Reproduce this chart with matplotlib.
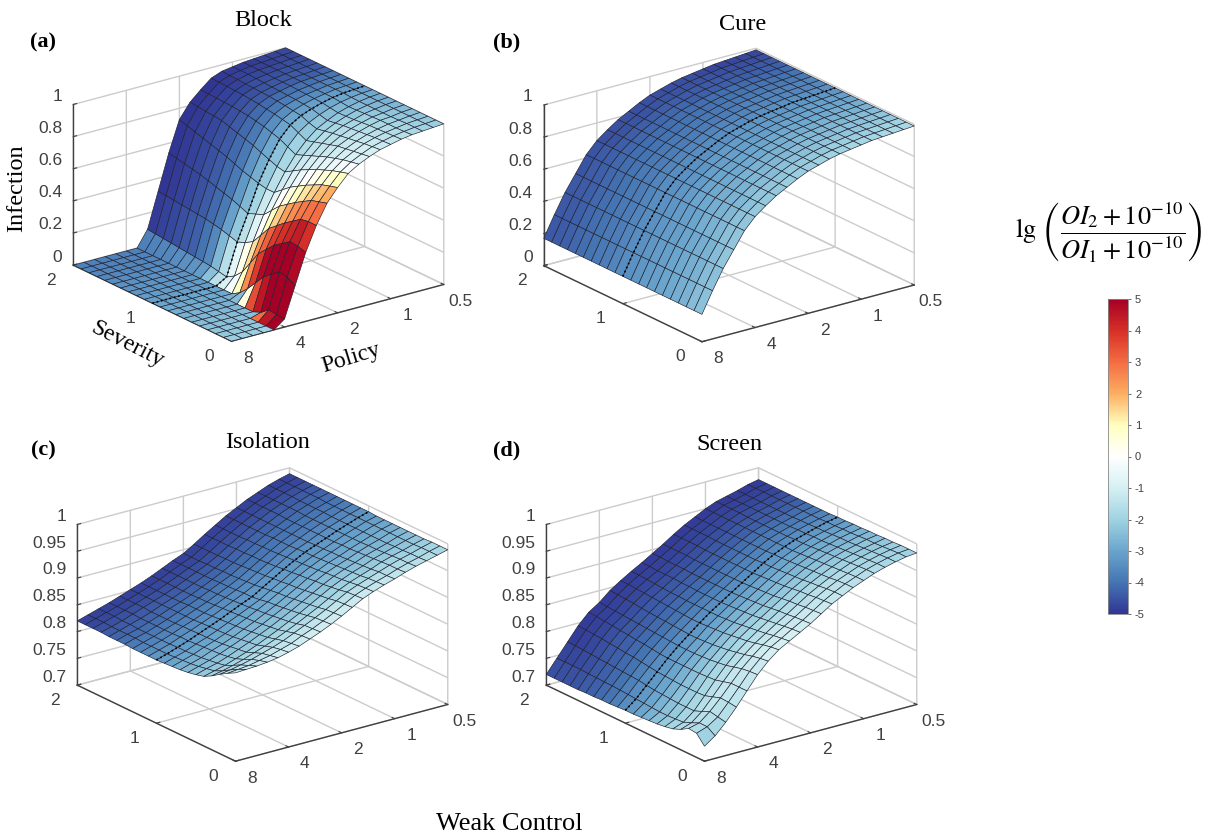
import numpy as np
import matplotlib
matplotlib.use('Agg')
import matplotlib.pyplot as plt
from matplotlib.cm import ScalarMappable
from matplotlib.colors import LinearSegmentedColormap, Normalize

plt.rcParams['axes.unicode_minus'] = False
plt.rcParams['mathtext.fontset'] = 'stix'
plt.rcParams['grid.color'] = '#cccccc'
plt.rcParams['grid.linewidth'] = 1.0

W, H = 1213, 835

# log2 of the policy value, 8 at the front corner, 0.5 at the back
policy_log2 = [3.0, 2.8, 2.6, 2.4, 2.2, 2.0, 1.8, 1.6, 1.4, 1.2, 1.0,
               0.8, 0.6, 0.4, 0.2, 0.0, -0.2, -0.4, -0.6, -0.8, -1.0]
severity = [0.0, 0.1, 0.2, 0.3, 0.4, 0.5, 0.6, 0.7, 0.8, 0.9, 1.0,
            1.1, 1.2, 1.3, 1.4, 1.5, 1.6, 1.7, 1.8, 1.9, 2.0]

policy_ticks = [3, 2, 1, 0, -1]
policy_labels = ['8', '4', '2', '1', '0.5']
severity_ticks = [0, 1, 2]
severity_labels = ['0', '1', '2']
z_ticks_wide = [0, 0.2, 0.4, 0.6, 0.8, 1]
z_labels_wide = ['0', '0.2', '0.4', '0.6', '0.8', '1']
z_ticks_narrow = [0.7, 0.75, 0.8, 0.85, 0.9, 0.95, 1]
z_labels_narrow = ['0.7', '0.75', '0.8', '0.85', '0.9', '0.95', '1']

cbar_values = [-5, -4, -3, -2, -1, 0, 1, 2, 3, 4, 5]
cbar_colors = ['#313695', '#4575b4', '#6aa5cd', '#a0d3e2', '#d5f0f3', '#ffffff',
               '#ffffbf', '#fdae61', '#f46d43', '#d73027', '#a50026']

# rows follow severity, columns follow policy_log2
block_infection = [
    [0, 0, 0, 0, 0, .05, .24, .43, .58, .70, .78, .85, .89, .92, .945, .96, .975, .985, .99, .995, 1],
    [0, 0, 0, 0, 0, .055, .27, .445, .58, .685, .765, .835, .88, .912, .94, .957, .972, .982, .99, .995, 1],
    [0, 0, 0, 0, 0, .06, .28, .45, .57, .67, .75, .82, .87, .905, .935, .955, .97, .98, .99, .995, 1],
    [0, 0, 0, 0, 0, .02, .24, .415, .535, .64, .725, .80, .855, .897, .927, .95, .967, .98, .987, .995, 1],
    [0, 0, 0, 0, 0, 0, .20, .38, .50, .61, .70, .78, .84, .89, .92, .945, .965, .98, .985, .995, 1],
    [0, 0, 0, 0, 0, 0, .14, .33, .46, .575, .67, .755, .82, .875, .912, .94, .96, .977, .985, .995, 1],
    [0, 0, 0, 0, 0, 0, .08, .28, .42, .54, .64, .73, .80, .86, .905, .935, .955, .975, .985, .995, 1],
    [0, 0, 0, 0, 0, 0, .03, .20, .355, .49, .60, .70, .78, .845, .895, .927, .952, .972, .985, .995, 1],
    [0, 0, 0, 0, 0, 0, 0, .12, .29, .44, .56, .67, .76, .83, .885, .92, .95, .97, .985, .995, 1],
    [0, 0, 0, 0, 0, 0, 0, .07, .26, .42, .56, .68, .785, .855, .90, .932, .957, .975, .987, .995, 1],
    [0, 0, 0, 0, 0, 0, 0, .04, .24, .40, .57, .70, .81, .88, .92, .945, .965, .98, .99, .995, 1],
    [0, 0, 0, 0, 0, 0, 0, .05, .255, .42, .585, .72, .825, .89, .927, .95, .967, .98, .99, .995, 1],
    [0, 0, 0, 0, 0, 0, 0, .06, .27, .44, .60, .74, .84, .90, .935, .955, .97, .98, .99, .995, 1],
    [0, 0, 0, 0, 0, 0, 0, .065, .28, .455, .62, .755, .85, .907, .94, .957, .972, .982, .99, .995, 1],
    [0, 0, 0, 0, 0, 0, 0, .07, .29, .47, .64, .77, .86, .915, .945, .96, .975, .985, .99, .995, 1],
    [0, 0, 0, 0, 0, 0, 0, .075, .295, .485, .655, .785, .865, .92, .947, .962, .975, .985, .99, .995, 1],
    [0, 0, 0, 0, 0, 0, 0, .08, .30, .50, .67, .80, .87, .925, .95, .965, .975, .985, .99, .995, 1],
    [0, 0, 0, 0, 0, 0, 0, .085, .305, .51, .685, .805, .872, .927, .952, .967, .977, .985, .99, .995, 1],
    [0, 0, 0, 0, 0, 0, 0, .09, .31, .52, .70, .81, .875, .93, .955, .97, .98, .985, .99, .995, 1],
    [0, 0, 0, 0, 0, 0, 0, .095, .315, .53, .715, .815, .877, .932, .957, .97, .98, .985, .99, .995, 1],
    [0, 0, 0, 0, 0, 0, 0, .10, .32, .54, .73, .82, .88, .935, .96, .97, .98, .985, .99, .995, 1],
]
block_color = [
    [-2.1, -2.1, -2.1, -2.0, 5, 5, 4.8, 4, 3, 2, 1, -.2, -.8, -1, -1.2, -1.4, -1.6, -1.8, -2, -2.1, -2.2],
    [-2.2, -2.2, -2.2, -2.2, 4.5, 5, 5, 4.4, 2.9, 1.8, .8, -.3, -.9, -1.05, -1.25, -1.45, -1.65, -1.85, -2.05, -2.2, -2.3],
    [-2.3, -2.3, -2.3, -2.3, 3, 5, 5, 4.2, 2.8, 1.6, .6, -.5, -1, -1.1, -1.3, -1.5, -1.7, -1.9, -2.1, -2.3, -2.4],
    [-2.4, -2.4, -2.4, -2.4, -2.4, 4.5, 5, 4, 2.5, 1.3, .3, -.6, -1.1, -1.25, -1.4, -1.6, -1.8, -2, -2.2, -2.4, -2.5],
    [-2.5, -2.5, -2.5, -2.5, -2.5, 3.5, 4.8, 3.8, 2.2, 1, 0, -.8, -1.2, -1.4, -1.5, -1.7, -1.9, -2.1, -2.3, -2.5, -2.6],
    [-2.6, -2.6, -2.6, -2.6, -2.6, .5, 3.8, 3.2, 1.6, .5, -.4, -1, -1.35, -1.5, -1.65, -1.85, -2.05, -2.25, -2.45, -2.6, -2.7],
    [-2.7, -2.7, -2.7, -2.7, -2.7, -2.5, 2.5, 2.5, 1, 0, -.8, -1.2, -1.5, -1.6, -1.8, -2, -2.2, -2.4, -2.6, -2.7, -2.8],
    [-2.8, -2.8, -2.8, -2.8, -2.8, -2.7, 1, 1.4, 0, -.6, -1.15, -1.5, -1.75, -1.9, -2.05, -2.25, -2.4, -2.55, -2.7, -2.8, -2.9],
    [-2.9, -2.9, -2.9, -2.9, -2.9, -2.9, -.3, .3, -.8, -1.2, -1.5, -1.8, -2, -2.2, -2.3, -2.5, -2.6, -2.7, -2.8, -2.9, -3],
    [-3, -3, -3, -3, -3, -3, -.9, -.7, -1.5, -1.9, -2.15, -2.35, -2.5, -2.6, -2.7, -2.8, -2.9, -2.95, -3, -3.1, -3.15],
    [-3.1, -3.1, -3.1, -3.1, -3.1, -3.1, -1.5, -1.6, -2.2, -2.6, -2.8, -2.9, -3, -3, -3.1, -3.1, -3.2, -3.2, -3.2, -3.3, -3.3],
    [-3.2, -3.2, -3.2, -3.2, -3.2, -3.2, -2.4, -2.6, -3.05, -3.25, -3.35, -3.4, -3.45, -3.45, -3.45, -3.45, -3.5, -3.5, -3.45, -3.5, -3.5],
    [-3.3, -3.3, -3.3, -3.3, -3.3, -3.3, -3.2, -3.6, -3.9, -3.9, -3.9, -3.9, -3.9, -3.9, -3.8, -3.8, -3.8, -3.8, -3.7, -3.7, -3.7],
    [-3.35, -3.35, -3.35, -3.35, -3.35, -3.35, -3.35, -4, -4.15, -4.15, -4.15, -4.15, -4.15, -4.15, -4.1, -4.05, -4.05, -4.05, -4, -3.95, -3.95],
    [-3.4, -3.4, -3.4, -3.4, -3.4, -3.4, -3.4, -4.3, -4.4, -4.4, -4.4, -4.4, -4.4, -4.4, -4.4, -4.3, -4.3, -4.3, -4.3, -4.2, -4.2],
    [-3.5, -3.5, -3.5, -3.5, -3.5, -3.5, -3.5, -4.45, -4.55, -4.55, -4.55, -4.55, -4.55, -4.55, -4.5, -4.45, -4.45, -4.4, -4.4, -4.4, -4.4],
    [-3.6, -3.6, -3.6, -3.6, -3.6, -3.6, -3.6, -4.6, -4.7, -4.7, -4.7, -4.7, -4.7, -4.7, -4.6, -4.6, -4.6, -4.5, -4.5, -4.5, -4.5],
    [-3.65, -3.65, -3.65, -3.65, -3.65, -3.65, -3.65, -4.7, -4.8, -4.8, -4.8, -4.8, -4.8, -4.8, -4.7, -4.7, -4.7, -4.65, -4.6, -4.6, -4.6],
    [-3.7, -3.7, -3.7, -3.7, -3.7, -3.7, -3.7, -4.8, -4.9, -4.9, -4.9, -4.9, -4.9, -4.9, -4.8, -4.8, -4.8, -4.8, -4.7, -4.7, -4.7],
    [-3.75, -3.75, -3.75, -3.75, -3.75, -3.75, -3.75, -4.9, -5, -5, -5, -5, -5, -4.95, -4.85, -4.85, -4.85, -4.8, -4.75, -4.7, -4.7],
    [-3.8, -3.8, -3.8, -3.8, -3.8, -3.8, -3.8, -5, -5, -5, -5, -5, -5, -5, -4.9, -4.9, -4.9, -4.8, -4.8, -4.7, -4.7],
]

# the Cure surface does not change with severity as far as the picture shows
cure_infection = [.17, .30, .42, .52, .62, .69, .74, .785, .82, .855, .885,
                  .905, .925, .94, .95, .96, .97, .975, .98, .985, .99]
cure_color = [
    [-2.4, -2.4, -2.3, -2.3, -2.3, -2.2, -2.2, -2.2, -2.1, -2.1, -2.1, -2, -2, -2, -1.9, -1.9, -1.9, -1.8, -1.8, -1.8, -1.8],
    [-2.5, -2.5, -2.5, -2.4, -2.4, -2.4, -2.3, -2.3, -2.3, -2.2, -2.2, -2.2, -2.2, -2.1, -2.1, -2.1, -2.1, -2, -2, -2, -2],
    [-2.7, -2.7, -2.7, -2.6, -2.6, -2.6, -2.5, -2.5, -2.5, -2.4, -2.4, -2.4, -2.4, -2.3, -2.3, -2.3, -2.3, -2.2, -2.2, -2.2, -2.2],
    [-2.8, -2.8, -2.8, -2.7, -2.7, -2.7, -2.7, -2.6, -2.6, -2.6, -2.6, -2.5, -2.5, -2.5, -2.5, -2.4, -2.4, -2.4, -2.4, -2.3, -2.3],
    [-2.9, -2.9, -2.9, -2.8, -2.8, -2.8, -2.8, -2.7, -2.7, -2.7, -2.7, -2.7, -2.6, -2.6, -2.6, -2.6, -2.6, -2.5, -2.5, -2.5, -2.5],
    [-3, -3, -3, -3, -2.9, -2.9, -2.9, -2.9, -2.9, -2.9, -2.8, -2.8, -2.8, -2.8, -2.8, -2.7, -2.7, -2.7, -2.7, -2.7, -2.7],
    [-3.1, -3.1, -3.1, -3.1, -3, -3, -3, -3, -3, -3, -3, -2.9, -2.9, -2.9, -2.9, -2.9, -2.9, -2.8, -2.8, -2.8, -2.8],
    [-3.2, -3.2, -3.2, -3.2, -3.2, -3.2, -3.1, -3.1, -3.1, -3.1, -3.1, -3.1, -3.1, -3, -3, -3, -3, -3, -3, -3, -3],
    [-3.3, -3.3, -3.3, -3.3, -3.3, -3.3, -3.3, -3.2, -3.2, -3.2, -3.2, -3.2, -3.2, -3.2, -3.2, -3.2, -3.1, -3.1, -3.1, -3.1, -3.1],
    [-3.4, -3.4, -3.4, -3.4, -3.4, -3.4, -3.4, -3.4, -3.4, -3.4, -3.3, -3.3, -3.3, -3.3, -3.3, -3.3, -3.3, -3.3, -3.3, -3.3, -3.3],
    [-3.5, -3.5, -3.5, -3.5, -3.5, -3.5, -3.5, -3.5, -3.5, -3.5, -3.5, -3.5, -3.5, -3.4, -3.4, -3.4, -3.4, -3.4, -3.4, -3.4, -3.4],
    [-3.65, -3.65, -3.65, -3.65, -3.65, -3.65, -3.65, -3.65, -3.65, -3.65, -3.65, -3.65, -3.65, -3.6, -3.6, -3.6, -3.6, -3.6, -3.6, -3.6, -3.6],
    [-3.8, -3.8, -3.8, -3.8, -3.8, -3.8, -3.8, -3.8, -3.8, -3.8, -3.8, -3.8, -3.8, -3.7, -3.7, -3.7, -3.7, -3.7, -3.7, -3.7, -3.7],
    [-3.9, -3.9, -3.9, -3.9, -3.9, -3.9, -3.9, -3.9, -3.9, -3.9, -3.9, -3.9, -3.9, -3.9, -3.9, -3.9, -3.9, -3.9, -3.9, -3.9, -3.9],
    [-4, -4, -4, -4, -4, -4, -4, -4, -4, -4, -4, -4, -4, -4, -4, -4, -4, -4, -4, -4, -4],
    [-4.1, -4.1, -4.1, -4.1, -4.1, -4.1, -4.1, -4.1, -4.1, -4.1, -4.1, -4.1, -4.1, -4.1, -4.1, -4.15, -4.15, -4.15, -4.15, -4.15, -4.15],
    [-4.2, -4.2, -4.2, -4.2, -4.2, -4.2, -4.2, -4.2, -4.2, -4.2, -4.2, -4.3, -4.3, -4.3, -4.3, -4.3, -4.3, -4.3, -4.3, -4.3, -4.3],
    [-4.3, -4.3, -4.3, -4.3, -4.3, -4.35, -4.35, -4.35, -4.35, -4.35, -4.35, -4.4, -4.4, -4.4, -4.4, -4.45, -4.45, -4.45, -4.45, -4.45, -4.45],
    [-4.4, -4.4, -4.4, -4.4, -4.4, -4.5, -4.5, -4.5, -4.5, -4.5, -4.5, -4.5, -4.5, -4.5, -4.5, -4.6, -4.6, -4.6, -4.6, -4.6, -4.6],
    [-4.45, -4.45, -4.45, -4.5, -4.5, -4.55, -4.55, -4.55, -4.6, -4.6, -4.6, -4.6, -4.6, -4.6, -4.65, -4.7, -4.7, -4.7, -4.7, -4.7, -4.7],
    [-4.5, -4.5, -4.5, -4.6, -4.6, -4.6, -4.6, -4.6, -4.7, -4.7, -4.7, -4.7, -4.7, -4.7, -4.8, -4.8, -4.8, -4.8, -4.8, -4.8, -4.8],
]

isolation_infection = [
    [.865, .866, .867, .869, .872, .877, .883, .891, .899, .908, .918, .929, .94, .948, .955, .961, .968, .974, .979, .984, .989],
    [.857, .859, .861, .865, .869, .875, .881, .89, .898, .907, .917, .928, .939, .947, .954, .96, .967, .973, .978, .984, .989],
    [.848, .851, .855, .86, .866, .872, .879, .888, .897, .906, .916, .927, .938, .946, .953, .96, .967, .973, .978, .984, .989],
    [.838, .842, .847, .853, .86, .867, .875, .884, .893, .903, .913, .924, .935, .944, .951, .958, .966, .972, .977, .983, .988],
    [.83, .835, .84, .847, .854, .862, .871, .88, .89, .90, .911, .922, .933, .942, .95, .957, .965, .971, .977, .983, .988],
    [.826, .832, .837, .844, .852, .86, .869, .878, .888, .898, .909, .92, .931, .941, .949, .956, .964, .97, .976, .983, .988],
    [.823, .829, .835, .842, .85, .858, .867, .876, .886, .896, .907, .918, .93, .94, .948, .955, .963, .97, .976, .983, .988],
    [.821, .827, .833, .841, .848, .856, .865, .874, .884, .894, .905, .916, .928, .938, .947, .954, .962, .969, .976, .983, .988],
    [.82, .826, .832, .84, .847, .855, .864, .873, .883, .893, .904, .915, .927, .937, .946, .954, .962, .969, .976, .983, .988],
    [.819, .825, .831, .839, .846, .854, .863, .872, .881, .89, .902, .913, .925, .936, .945, .953, .961, .969, .976, .983, .988],
    [.818, .824, .831, .838, .846, .854, .862, .871, .88, .888, .90, .912, .924, .935, .945, .953, .961, .969, .976, .983, .989],
    [.818, .824, .83, .838, .845, .853, .861, .87, .879, .888, .898, .91, .922, .934, .944, .952, .961, .969, .976, .983, .989],
    [.818, .824, .83, .837, .845, .852, .86, .869, .878, .887, .897, .909, .921, .933, .943, .952, .961, .969, .976, .983, .989],
    [.818, .824, .83, .837, .844, .852, .86, .868, .877, .886, .896, .908, .92, .932, .943, .952, .961, .969, .977, .983, .989],
    [.819, .825, .83, .837, .844, .852, .86, .868, .877, .886, .895, .907, .92, .932, .943, .952, .961, .969, .977, .983, .989],
    [.819, .825, .83, .837, .844, .852, .859, .867, .876, .885, .895, .906, .919, .931, .942, .952, .961, .97, .977, .984, .989],
    [.819, .825, .831, .837, .844, .852, .859, .867, .876, .885, .894, .906, .919, .931, .942, .952, .962, .97, .977, .984, .989],
    [.82, .825, .831, .838, .845, .852, .859, .867, .876, .885, .894, .905, .918, .93, .942, .952, .962, .97, .978, .984, .989],
    [.82, .826, .832, .838, .845, .852, .859, .867, .876, .885, .893, .905, .918, .93, .942, .952, .962, .97, .978, .984, .989],
    [.82, .826, .832, .838, .845, .852, .859, .867, .876, .885, .893, .905, .918, .93, .942, .952, .962, .97, .978, .984, .989],
    [.82, .826, .832, .838, .845, .852, .859, .867, .876, .885, .893, .905, .918, .93, .942, .952, .962, .97, .978, .984, .989],
]
isolation_color = [
    [-1.3, -1.2, -1.2, -1.2, -1.1, -1.1, -1.1, -1.1, -1.1, -1.1, -1.1, -1.2, -1.2, -1.3, -1.3, -1.4, -1.5, -1.6, -1.7, -1.8, -1.8],
    [-1.5, -1.45, -1.45, -1.45, -1.4, -1.4, -1.4, -1.4, -1.4, -1.4, -1.4, -1.5, -1.5, -1.55, -1.6, -1.65, -1.75, -1.8, -1.9, -1.95, -1.95],
    [-1.7, -1.7, -1.7, -1.7, -1.7, -1.7, -1.7, -1.7, -1.7, -1.7, -1.7, -1.8, -1.8, -1.8, -1.9, -1.9, -2, -2, -2.1, -2.1, -2.1],
    [-1.95, -1.95, -1.95, -1.95, -1.95, -1.95, -1.95, -1.95, -1.95, -2, -2, -2.05, -2.05, -2.05, -2.15, -2.15, -2.2, -2.25, -2.3, -2.3, -2.3],
    [-2.2, -2.2, -2.2, -2.2, -2.2, -2.2, -2.2, -2.2, -2.2, -2.3, -2.3, -2.3, -2.3, -2.3, -2.4, -2.4, -2.4, -2.5, -2.5, -2.5, -2.5],
    [-2.4, -2.4, -2.4, -2.4, -2.4, -2.4, -2.4, -2.4, -2.45, -2.5, -2.5, -2.5, -2.5, -2.5, -2.6, -2.6, -2.6, -2.65, -2.65, -2.65, -2.65],
    [-2.6, -2.6, -2.6, -2.6, -2.6, -2.6, -2.6, -2.6, -2.7, -2.7, -2.7, -2.7, -2.7, -2.7, -2.8, -2.8, -2.8, -2.8, -2.8, -2.8, -2.8],
    [-2.8, -2.8, -2.8, -2.8, -2.8, -2.8, -2.8, -2.8, -2.85, -2.85, -2.85, -2.9, -2.9, -2.9, -2.95, -2.95, -2.95, -2.95, -2.95, -2.95, -2.95],
    [-3, -3, -3, -3, -3, -3, -3, -3, -3, -3, -3, -3.1, -3.1, -3.1, -3.1, -3.1, -3.1, -3.1, -3.1, -3.1, -3.1],
    [-3.15, -3.15, -3.15, -3.15, -3.15, -3.15, -3.15, -3.15, -3.15, -3.15, -3.15, -3.2, -3.25, -3.25, -3.25, -3.25, -3.25, -3.25, -3.25, -3.25, -3.25],
    [-3.3, -3.3, -3.3, -3.3, -3.3, -3.3, -3.3, -3.3, -3.3, -3.3, -3.3, -3.3, -3.4, -3.4, -3.4, -3.4, -3.4, -3.4, -3.4, -3.4, -3.4],
    [-3.5, -3.5, -3.5, -3.5, -3.5, -3.5, -3.5, -3.5, -3.5, -3.5, -3.5, -3.55, -3.6, -3.6, -3.6, -3.6, -3.6, -3.6, -3.6, -3.6, -3.6],
    [-3.7, -3.7, -3.7, -3.7, -3.7, -3.7, -3.7, -3.7, -3.7, -3.7, -3.7, -3.8, -3.8, -3.8, -3.8, -3.8, -3.8, -3.8, -3.8, -3.8, -3.8],
    [-3.9, -3.9, -3.9, -3.9, -3.9, -3.9, -3.9, -3.9, -3.9, -3.9, -3.9, -3.95, -3.95, -3.95, -3.95, -3.95, -3.95, -3.95, -3.95, -3.95, -3.95],
    [-4.1, -4.1, -4.1, -4.1, -4.1, -4.1, -4.1, -4.1, -4.1, -4.1, -4.1, -4.1, -4.1, -4.1, -4.1, -4.1, -4.1, -4.1, -4.1, -4.1, -4.1],
    [-4.25, -4.25, -4.25, -4.25, -4.25, -4.25, -4.25, -4.25, -4.25, -4.25, -4.25, -4.25, -4.25, -4.25, -4.25, -4.25, -4.25, -4.25, -4.25, -4.25, -4.25],
    [-4.4, -4.4, -4.4, -4.4, -4.4, -4.4, -4.4, -4.4, -4.4, -4.4, -4.4, -4.4, -4.4, -4.4, -4.4, -4.4, -4.4, -4.4, -4.4, -4.4, -4.4],
    [-4.55, -4.55, -4.55, -4.55, -4.55, -4.55, -4.55, -4.55, -4.55, -4.55, -4.55, -4.55, -4.55, -4.55, -4.55, -4.55, -4.55, -4.55, -4.55, -4.55, -4.55],
    [-4.7, -4.7, -4.7, -4.7, -4.7, -4.7, -4.7, -4.7, -4.7, -4.7, -4.7, -4.7, -4.7, -4.7, -4.7, -4.7, -4.7, -4.7, -4.7, -4.7, -4.7],
    [-4.8, -4.8, -4.8, -4.8, -4.8, -4.8, -4.8, -4.8, -4.8, -4.8, -4.8, -4.8, -4.8, -4.8, -4.8, -4.8, -4.8, -4.8, -4.8, -4.8, -4.8],
    [-4.9, -4.9, -4.9, -4.9, -4.9, -4.9, -4.9, -4.9, -4.9, -4.9, -4.9, -4.9, -4.9, -4.9, -4.9, -4.9, -4.9, -4.9, -4.9, -4.9, -4.9],
]

screen_infection = [
    [.728, .742, .762, .785, .81, .835, .855, .871, .882, .893, .904, .917, .93, .94, .95, .958, .966, .972, .977, .981, .983],
    [.745, .752, .765, .787, .81, .834, .853, .869, .88, .892, .903, .916, .929, .94, .95, .958, .966, .972, .977, .981, .983],
    [.747, .752, .768, .788, .81, .832, .85, .866, .878, .89, .902, .915, .928, .939, .949, .957, .965, .971, .976, .98, .983],
    [.738, .745, .761, .783, .806, .828, .846, .862, .875, .888, .90, .913, .926, .937, .947, .956, .964, .97, .975, .979, .982],
    [.732, .739, .755, .778, .802, .824, .843, .859, .873, .886, .899, .912, .925, .936, .946, .955, .963, .969, .974, .978, .982],
    [.729, .738, .755, .777, .801, .822, .84, .857, .871, .884, .897, .91, .923, .934, .945, .954, .962, .968, .973, .978, .981],
    [.727, .737, .755, .777, .80, .82, .838, .855, .869, .882, .895, .908, .921, .933, .944, .953, .961, .967, .972, .977, .981],
    [.726, .737, .756, .777, .80, .819, .836, .853, .867, .881, .894, .907, .92, .932, .943, .952, .96, .966, .972, .976, .98],
    [.725, .738, .757, .778, .80, .818, .835, .852, .866, .88, .893, .906, .919, .931, .942, .951, .959, .965, .971, .976, .98],
    [.724, .739, .758, .779, .80, .818, .834, .851, .865, .879, .892, .905, .918, .93, .941, .95, .958, .965, .97, .975, .979],
    [.724, .74, .76, .78, .80, .818, .834, .85, .865, .878, .891, .904, .917, .93, .941, .95, .958, .964, .97, .975, .979],
    [.723, .741, .762, .782, .801, .819, .835, .85, .865, .878, .891, .904, .917, .929, .94, .95, .957, .964, .969, .974, .978],
    [.722, .742, .763, .784, .803, .82, .836, .851, .865, .878, .891, .904, .917, .929, .94, .95, .957, .963, .969, .974, .978],
    [.722, .743, .764, .786, .805, .821, .837, .852, .865, .878, .891, .904, .917, .929, .94, .95, .957, .963, .968, .974, .978],
    [.721, .743, .765, .787, .806, .822, .838, .853, .866, .879, .891, .904, .917, .929, .94, .95, .957, .963, .968, .974, .978],
    [.721, .744, .766, .789, .808, .823, .839, .854, .866, .879, .891, .904, .917, .929, .94, .95, .957, .963, .968, .974, .978],
    [.72, .744, .767, .79, .809, .824, .84, .855, .867, .88, .892, .904, .917, .929, .94, .95, .957, .963, .968, .974, .978],
    [.72, .745, .768, .792, .811, .825, .842, .856, .868, .88, .892, .905, .918, .93, .94, .95, .958, .963, .968, .974, .978],
    [.72, .745, .769, .793, .812, .826, .843, .857, .869, .88, .892, .905, .918, .93, .94, .95, .958, .963, .968, .974, .978],
    [.72, .745, .77, .794, .814, .827, .844, .858, .87, .881, .893, .905, .918, .93, .94, .95, .958, .963, .968, .974, .978],
    [.72, .745, .77, .795, .815, .828, .845, .858, .87, .881, .893, .905, .918, .93, .94, .95, .958, .963, .968, .974, .978],
]
screen_color = [
    [-2, -1.8, -1.6, -1.4, -1.3, -1.2, -1, -1, -1, -1.1, -1.1, -1.2, -1.3, -1.4, -1.5, -1.6, -1.7, -1.8, -1.9, -2, -2],
    [-1.7, -1.6, -1.5, -1.35, -1.3, -1.25, -1.1, -1.15, -1.15, -1.25, -1.25, -1.35, -1.4, -1.5, -1.6, -1.7, -1.8, -1.9, -2, -2.05, -2.1],
    [-1.6, -1.5, -1.4, -1.3, -1.3, -1.3, -1.2, -1.3, -1.3, -1.4, -1.4, -1.5, -1.5, -1.6, -1.7, -1.8, -1.9, -2, -2.1, -2.1, -2.2],
    [-1.75, -1.7, -1.6, -1.55, -1.55, -1.55, -1.5, -1.55, -1.55, -1.65, -1.65, -1.75, -1.75, -1.85, -1.9, -2, -2.05, -2.15, -2.2, -2.25, -2.3],
    [-1.9, -1.9, -1.8, -1.8, -1.8, -1.8, -1.8, -1.8, -1.8, -1.9, -1.9, -2, -2, -2.1, -2.1, -2.2, -2.2, -2.3, -2.3, -2.4, -2.4],
    [-2.15, -2.15, -2.1, -2.1, -2.1, -2.1, -2.1, -2.1, -2.1, -2.15, -2.2, -2.25, -2.25, -2.35, -2.35, -2.4, -2.45, -2.5, -2.5, -2.55, -2.55],
    [-2.4, -2.4, -2.4, -2.4, -2.4, -2.4, -2.4, -2.4, -2.4, -2.4, -2.5, -2.5, -2.5, -2.6, -2.6, -2.6, -2.7, -2.7, -2.7, -2.7, -2.7],
    [-2.7, -2.7, -2.7, -2.7, -2.7, -2.7, -2.7, -2.7, -2.7, -2.7, -2.75, -2.75, -2.75, -2.8, -2.8, -2.8, -2.85, -2.85, -2.9, -2.9, -2.9],
    [-3, -3, -3, -3, -3, -3, -3, -3, -3, -3, -3, -3, -3, -3, -3, -3, -3, -3, -3.1, -3.1, -3.1],
    [-3.25, -3.25, -3.25, -3.25, -3.25, -3.25, -3.25, -3.25, -3.25, -3.25, -3.25, -3.25, -3.25, -3.25, -3.25, -3.25, -3.25, -3.25, -3.3, -3.3, -3.3],
    [-3.5, -3.5, -3.5, -3.5, -3.5, -3.5, -3.5, -3.5, -3.5, -3.5, -3.5, -3.5, -3.5, -3.5, -3.5, -3.5, -3.5, -3.5, -3.5, -3.5, -3.5],
    [-3.75, -3.75, -3.75, -3.75, -3.75, -3.75, -3.75, -3.75, -3.75, -3.75, -3.75, -3.7, -3.7, -3.7, -3.7, -3.7, -3.7, -3.7, -3.7, -3.7, -3.7],
    [-4, -4, -4, -4, -4, -4, -4, -4, -4, -4, -4, -3.9, -3.9, -3.9, -3.9, -3.9, -3.9, -3.9, -3.9, -3.9, -3.9],
    [-4.15, -4.15, -4.15, -4.15, -4.15, -4.15, -4.15, -4.15, -4.15, -4.15, -4.15, -4.1, -4.1, -4.1, -4.1, -4.1, -4.1, -4.1, -4.1, -4.1, -4.1],
    [-4.3, -4.3, -4.3, -4.3, -4.3, -4.3, -4.3, -4.3, -4.3, -4.3, -4.3, -4.3, -4.3, -4.3, -4.3, -4.3, -4.3, -4.3, -4.3, -4.3, -4.3],
    [-4.4, -4.45, -4.45, -4.45, -4.45, -4.45, -4.45, -4.45, -4.45, -4.45, -4.45, -4.45, -4.45, -4.45, -4.45, -4.45, -4.45, -4.45, -4.45, -4.45, -4.45],
    [-4.5, -4.6, -4.6, -4.6, -4.6, -4.6, -4.6, -4.6, -4.6, -4.6, -4.6, -4.6, -4.6, -4.6, -4.6, -4.6, -4.6, -4.6, -4.6, -4.6, -4.6],
    [-4.55, -4.65, -4.7, -4.7, -4.7, -4.7, -4.7, -4.7, -4.7, -4.7, -4.7, -4.7, -4.7, -4.7, -4.7, -4.7, -4.7, -4.7, -4.7, -4.7, -4.7],
    [-4.6, -4.7, -4.8, -4.8, -4.8, -4.8, -4.8, -4.8, -4.8, -4.8, -4.8, -4.8, -4.8, -4.8, -4.8, -4.8, -4.8, -4.8, -4.8, -4.8, -4.8],
    [-4.6, -4.75, -4.85, -4.85, -4.85, -4.85, -4.85, -4.85, -4.85, -4.85, -4.85, -4.85, -4.85, -4.85, -4.85, -4.85, -4.85, -4.85, -4.85, -4.85, -4.85],
    [-4.6, -4.8, -4.9, -4.9, -4.9, -4.9, -4.9, -4.9, -4.9, -4.9, -4.9, -4.9, -4.9, -4.9, -4.9, -4.9, -4.9, -4.9, -4.9, -4.9, -4.9],
]

cmap = LinearSegmentedColormap.from_list(
    'ratio', [((v + 5) / 10, c) for v, c in zip(cbar_values, cbar_colors)])
norm = Normalize(-5, 5)

fig = plt.figure(figsize=(W / 100, H / 100), dpi=100)


def panel_axes(cx, cy, side=400):
    # cx, cy = pixel position of the centre of the 3d box
    left = cx - 0.5135 * side
    top = cy - 0.4865 * side
    ax = fig.add_axes([left / W, (H - top - side) / H, side / W, side / H],
                      projection='3d', proj_type='ortho', computed_zorder=False)
    ax.patch.set_alpha(0)
    ax.view_init(elev=21, azim=-126.7)
    ax.set_box_aspect((1, 1, 0.65))
    return ax


def draw_panel(ax, infection, color, zlim, zticks, zlabels):
    X, Y = np.meshgrid(policy_log2, severity)
    Z = np.array(infection, dtype=float)
    C = cmap(norm(np.array(color, dtype=float)))
    ax.plot_surface(X, Y, Z, facecolors=C, rstride=1, cstride=1, shade=False,
                    edgecolor='#20202c', linewidth=0.45, antialiased=True, zorder=2)
    # dotted line at severity 1
    ax.plot(policy_log2, [severity[10]] * len(policy_log2), Z[10], color='black',
            ls=':', lw=1.2, zorder=3)
    ax.set_xlim(3, -1, view_margin=0)
    ax.set_ylim(0, 2, view_margin=0)
    ax.set_zlim(zlim[0], zlim[1], view_margin=0)
    ax.set_xticks(policy_ticks)
    ax.set_xticklabels(policy_labels)
    ax.set_yticks(severity_ticks)
    ax.set_yticklabels(severity_labels)
    ax.set_zticks(zticks)
    ax.set_zticklabels(zlabels)
    for axis in (ax.xaxis, ax.yaxis, ax.zaxis):
        axis.set_pane_color((1, 1, 1, 0))
        axis.pane.set_edgecolor('#cccccc')
        axis.line.set_color('#404040')
        axis.line.set_linewidth(1.0)
        axis._axinfo['tick']['inward_factor'] = 0.0
        axis._axinfo['tick']['outward_factor'] = 0.2
        axis._axinfo['tick']['color'] = '#404040'
    ax.tick_params(axis='both', labelsize=12.5, labelcolor='#404040', colors='#404040')
    for lab in ax.get_xticklabels() + ax.get_yticklabels() + ax.get_zticklabels():
        lab.set_family('Liberation Sans')
        lab.set_va('bottom')
    for lab in ax.get_zticklabels():
        lab.set_ha('right')
    ax.tick_params(axis='x', pad=7.5)
    ax.tick_params(axis='y', pad=7.5)
    ax.tick_params(axis='z', pad=-3.5)
    ax.zaxis.set_ticks_position('upper')


ax_a = panel_axes(258.5, 194.5)
draw_panel(ax_a, block_infection, block_color, (0, 1), z_ticks_wide, z_labels_wide)
ax_b = panel_axes(729, 195)
draw_panel(ax_b, np.tile(cure_infection, (len(severity), 1)), cure_color, (0, 1), z_ticks_wide, z_labels_wide)
ax_c = panel_axes(262.5, 614.5)
draw_panel(ax_c, isolation_infection, isolation_color, (0.7, 1), z_ticks_narrow, z_labels_narrow)
ax_d = panel_axes(731.5, 614.5)
draw_panel(ax_d, screen_infection, screen_color, (0.7, 1), z_ticks_narrow, z_labels_narrow)


def px_text(x, y, s, **kw):
    fig.text(x / W, 1 - y / H, s, ha='center', va='center', **kw)


serif = 'Liberation Serif'
px_text(263, 21, 'Block', family=serif, fontsize=17.5)
px_text(743, 24, 'Cure', family=serif, fontsize=17.5)
px_text(268, 443, 'Isolation', family=serif, fontsize=17.5)
px_text(729, 445, 'Screen', family=serif, fontsize=17.5)
px_text(43, 42, '(a)', family=serif, fontsize=16, fontweight='bold')
px_text(507, 42, '(b)', family=serif, fontsize=16, fontweight='bold')
px_text(43, 450, '(c)', family=serif, fontsize=16, fontweight='bold')
px_text(507, 450, '(d)', family=serif, fontsize=16, fontweight='bold')
px_text(509, 824, 'Weak Control', family=serif, fontsize=19)
px_text(17, 188, 'Infection', family=serif, fontsize=17.5, rotation=90)
px_text(127, 345, 'Severity', family=serif, fontsize=17, rotation=-27)
px_text(351, 358, 'Policy', family=serif, fontsize=17, rotation=17)

px_text(1109, 232,
        r'$\mathrm{lg}\ \left(\dfrac{OI_2 + 10^{-10}}{OI_1 + 10^{-10}}\right)$',
        fontsize=19)

cax = fig.add_axes([1108 / W, (H - 614) / H, 20 / W, 315 / H])
cb = fig.colorbar(ScalarMappable(norm=norm, cmap=cmap), cax=cax, ticks=cbar_values)
cb.ax.tick_params(labelsize=8, labelcolor='#404040', length=2, width=0.6, color='#555555', pad=3)
for lab in cb.ax.get_yticklabels():
    lab.set_family('Liberation Sans')
cb.outline.set_edgecolor('#888888')
cb.outline.set_linewidth(0.6)

fig.savefig('out.png', dpi=100)
